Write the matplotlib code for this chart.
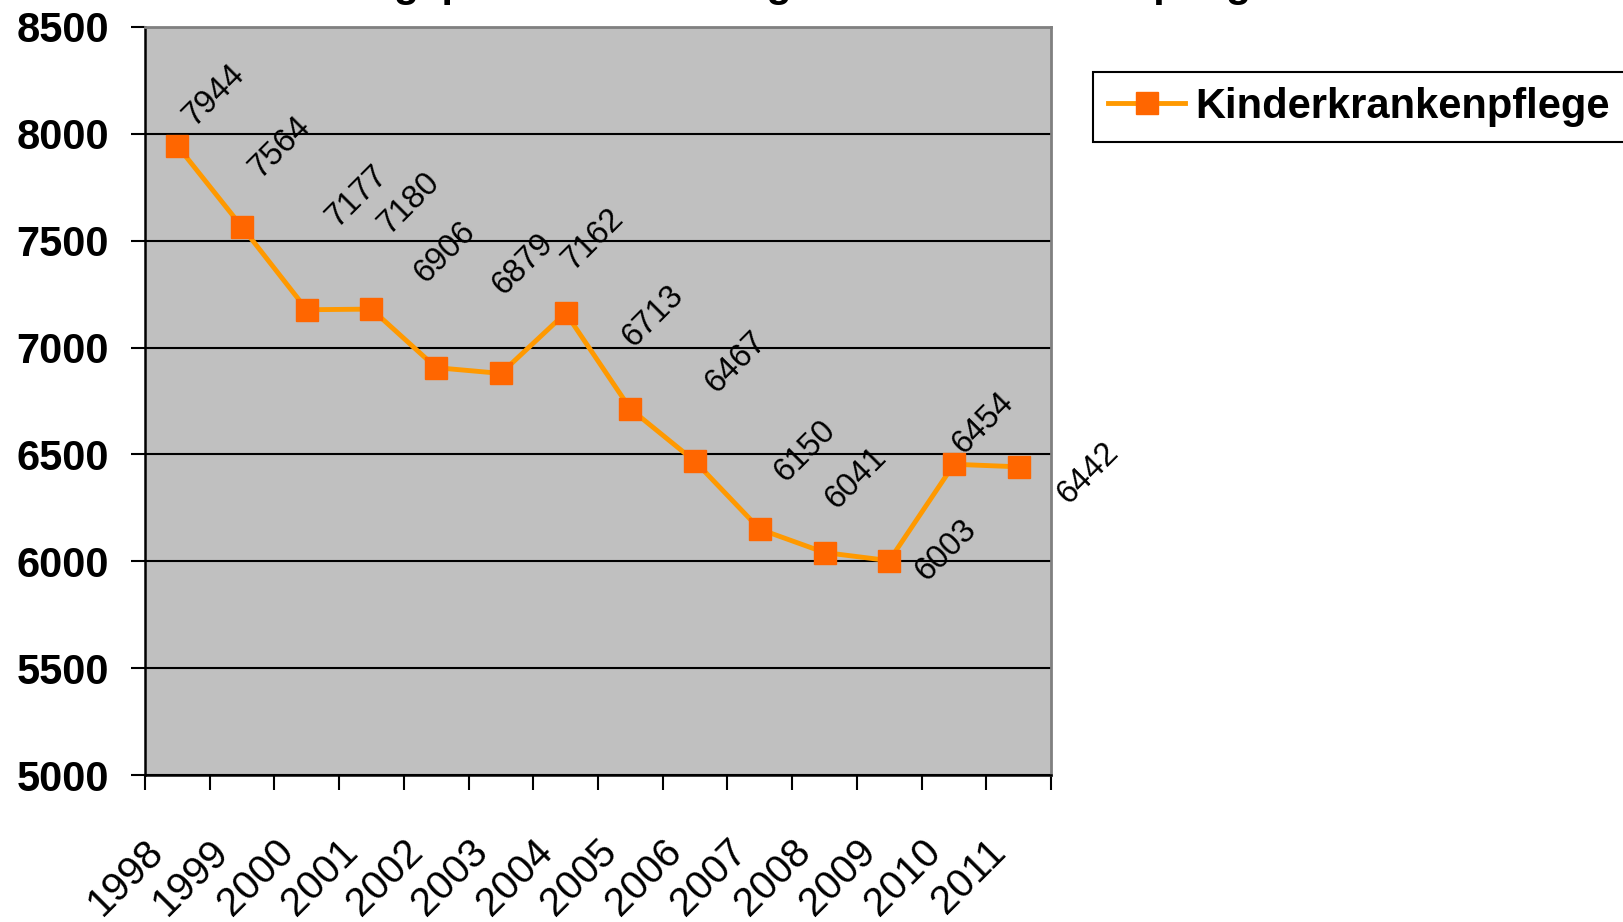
import matplotlib
matplotlib.use('Agg')
import matplotlib.pyplot as plt
import matplotlib.transforms as mtransforms
import numpy as np

# ---- data ----
years = ['1998', '1999', '2000', '2001', '2002', '2003', '2004',
         '2005', '2006', '2007', '2008', '2009', '2010', '2011']
values = [7944, 7564, 7177, 7180, 6906, 6879, 7162,
          6713, 6467, 6150, 6041, 6003, 6454, 6442]
series_name = 'Kinderkrankenpflege'
y_ticks = [5000, 5500, 6000, 6500, 7000, 7500, 8000, 8500]
title_text = 'Ausbildungsplätze in der Pflege & Kinderkrankenpflege'

# label offsets from their points (pixels, x right / y up)
label_offsets = [(37, 51), (38, 80), (50, 113), (38, 106), (9, 115), (22, 109),
                 (27, 74), (23, 93), (41, 99), (45, 78), (32, 74), (57, 10),
                 (29, 41), (69, -6)]

plt.rcParams['font.family'] = ['Liberation Sans', 'DejaVu Sans']

W, H = 1624, 922
fig = plt.figure(figsize=(W / 100, H / 100), dpi=100)
ax = fig.add_axes([145 / W, 1 - 775 / H, (1051 - 145) / W, (775 - 27) / H])
ax.set_facecolor('#C0C0C0')

x = np.arange(len(years))
line, = ax.plot(x, values, color='#FF9900', lw=3.5, marker='s', markersize=15.5,
                markerfacecolor='#FF6600', markeredgecolor='#FF6600',
                zorder=3, label=series_name)

for xi, v, (dx, dy) in zip(x, values, label_offsets):
    ax.annotate(str(v), (xi, v), xytext=(dx, dy), textcoords='offset pixels',
                ha='center', va='center', rotation=45, rotation_mode='anchor',
                fontsize=23.5, color='black', annotation_clip=False, zorder=4)

ax.set_xlim(-0.5, len(years) - 0.5)
ax.set_ylim(y_ticks[0], y_ticks[-1])

ax.set_yticks(y_ticks)
ax.set_yticklabels([str(t) for t in y_ticks], fontsize=30, fontweight='bold')
ax.tick_params(axis='y', direction='out', length=10, width=1.5, pad=16, color='black')
ax.yaxis.grid(True, color='black', lw=1.5)
ax.set_axisbelow(True)

ax.set_xticks(x)
ax.set_xticklabels(years, rotation=45, ha='right', va='top', fontsize=29)
ax.set_xticks(np.arange(-0.5, len(years), 1.0), minor=True)
ax.tick_params(axis='x', which='major', length=0, pad=41)
ax.tick_params(axis='x', which='minor', direction='out', length=11, width=1.5, color='black')
shift = mtransforms.ScaledTranslation(-6 / 100, 0, fig.dpi_scale_trans)
for lbl in ax.get_xticklabels():
    lbl.set_transform(lbl.get_transform() + shift)

for s in ['left', 'bottom']:
    ax.spines[s].set_color('black')
    ax.spines[s].set_linewidth(1.8)
for s in ['right', 'top']:
    ax.spines[s].set_color('#808080')
    ax.spines[s].set_linewidth(2)

fig.text(194 / W, 1 + 3 / H, title_text, ha='left', va='baseline',
         fontsize=29.5, fontweight='bold')

leg = ax.legend(loc='upper left', bbox_to_anchor=(1093 / W, 1 - 72 / H),
                bbox_transform=fig.transFigure, prop={'weight': 'bold', 'size': 30},
                frameon=True, fancybox=False, edgecolor='black', framealpha=1,
                borderpad=0.36, handlelength=1.85, handletextpad=0.24, borderaxespad=0)
leg.get_frame().set_linewidth(1.5)

fig.savefig('out.png', dpi=100)
